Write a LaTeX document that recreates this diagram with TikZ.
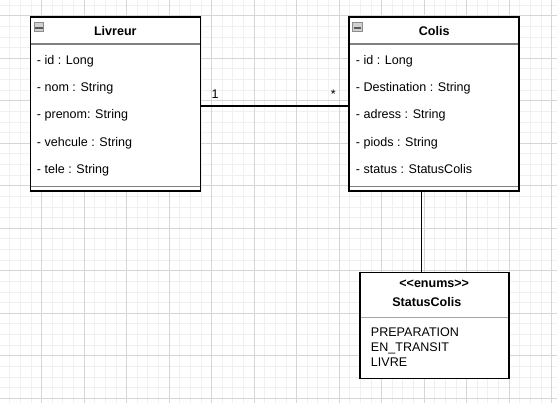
\documentclass[tikz,border=0pt]{standalone}
\usepackage{fontspec}
\setmainfont{Liberation Sans}
\usepackage{tikz}

\begin{document}
\begin{tikzpicture}[x=0.75pt,y=-0.75pt,font=\fontsize{9.4pt}{11.5pt}\selectfont,
    gridminor/.style={draw=black!6,line width=0.75pt},
    gridmajor/.style={draw=black!16,line width=0.75pt},
    classbox/.style={rectangle,draw,line width=1.2pt,fill=white,outer sep=0pt},
    divider/.style={draw=black!50,line width=1.2pt,shorten <=0.6pt,shorten >=0.6pt},
    attr/.style={anchor=base west,inner sep=0pt},
    label/.style={anchor=base,inner sep=0pt}]
    \useasboundingbox[fill=white] (0,0) rectangle (557,403);
    \foreach \i in {0,...,53} {
        \draw[gridminor] (-0.8+\i*10.625,0) -- (-0.8+\i*10.625,403);
    }
    \foreach \i in {-1,...,37} {
        \draw[gridminor] (0,15.8+\i*10.625) -- (557,15.8+\i*10.625);
    }
    \foreach \i in {0,...,13} {
        \draw[gridmajor] (-0.8+\i*42.5,0) -- (-0.8+\i*42.5,403);
    }
    \foreach \i in {-1,...,9} {
        \draw[gridmajor] (0,15.8+\i*42.5) -- (557,15.8+\i*42.5);
    }
    \coordinate (tap) at (421.7,191);
    \node at (115.3,104.15) [classbox,minimum width=127.5pt,minimum height=130.3pt] (livreur) {};
    \node at (434.15,104.15) [classbox,minimum width=127.7pt,minimum height=130.3pt] (colis) {};
    \node at (434.5,325.3) [classbox,minimum width=111.75pt,minimum height=79.5pt] (statuscolis) {};
    \foreach \b in {livreur,colis} {
        \draw[divider] (\b.west|-0,44.3) -- (\b.east|-0,44.3);
        \draw[divider] (\b.west|-0,186.3) -- (\b.east|-0,186.3);
        \draw[black!45,fill=black!18,line width=0.6pt] ([xshift=2.8pt,yshift=-3.9pt]\b.north west) rectangle ++(9.7,9.4);
        \fill[black!65] ([xshift=3.8pt,yshift=-7.1pt]\b.north west) rectangle ++(7.4,1.8);
    }
    \draw[divider,draw=black!35,line width=0.8pt] (statuscolis.west|-0,317.7) -- (statuscolis.east|-0,317.7);
    \node at (115.3,36) [label] (livreurname) {\bfseries Livreur};
    \node at (434.15,36) [label] (colisname) {\bfseries Colis};
    \foreach \y/\A [count=\i] in {64.3/- id : Long,91.6/- nom : String,118.9/- prenom: String,146.2/- vehcule : String,173.5/- tele : String} {
        \node at (36.7,\y) [attr] (livreurattr\i) {\A};
    }
    \foreach \y/\A [count=\i] in {64.3/- id : Long,91.6/- Destination : String,118.9/- adress : String,146.2/- piods : String,173.5/- status : StatusColis} {
        \node at (355.7,\y) [attr] (colisattr\i) {\A};
    }
    \draw[line width=0.9pt] ([yshift=-1.39pt]livreur.east) -- ([yshift=-1.39pt]colis.west);
    \node at (215,98.3) [label] (one) {1};
    \node at (333.3,98.3) [label] (many) {*};
    \draw[line width=0.9pt] (colis.south -| tap) -- (statuscolis.north -| tap);
    \node at (434.2,287.7) [label] (stereotype) {\bfseries <\kern0pt<enums>\kern0pt>};
    \node at (426.8,306.7) [label] (statusname) {\bfseries StatusColis};
    \foreach \y/\A [count=\i] in {336/PREPARATION,351.4/EN\_TRANSIT,366.7/LIVRE} {
        \node at (370.7,\y) [attr] (statusvalue\i) {\A};
    }
\end{tikzpicture}
\end{document}
